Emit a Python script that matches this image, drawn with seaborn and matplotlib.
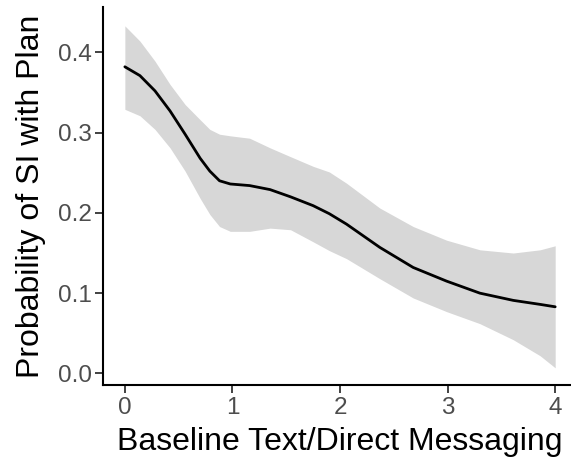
import numpy as np
import pandas as pd
import matplotlib
matplotlib.use('Agg')
import matplotlib.pyplot as plt
import seaborn as sns

# values
x = [0.0, 0.14, 0.28, 0.42, 0.56, 0.70, 0.79, 0.88, 0.98, 1.16, 1.35, 1.54,
     1.75, 1.90, 2.06, 2.37, 2.68, 2.99, 3.30, 3.61, 3.86, 4.0]
prob = [0.382, 0.371, 0.352, 0.327, 0.298, 0.268, 0.252, 0.240, 0.236, 0.234, 0.229,
        0.220, 0.209, 0.199, 0.186, 0.157, 0.132, 0.115, 0.100, 0.091, 0.086, 0.083]
upper = [0.433, 0.414, 0.389, 0.360, 0.335, 0.316, 0.304, 0.298, 0.296, 0.293, 0.281,
         0.270, 0.258, 0.251, 0.237, 0.206, 0.183, 0.166, 0.154, 0.150, 0.154, 0.159]
lower = [0.329, 0.321, 0.304, 0.281, 0.252, 0.218, 0.198, 0.183, 0.177, 0.177, 0.181,
         0.179, 0.164, 0.153, 0.143, 0.118, 0.094, 0.077, 0.062, 0.042, 0.022, 0.007]
xticks = [0, 1, 2, 3, 4]
yticks = [0.0, 0.1, 0.2, 0.3, 0.4]

df = pd.DataFrame({'x': x, 'prob': prob, 'upper': upper, 'lower': lower})

sns.set_style('white')
plt.rcParams['font.family'] = ['Liberation Sans', 'DejaVu Sans']

fig = plt.figure(figsize=(5.71, 4.62), dpi=100)
ax = fig.add_axes([0.181, 0.1667, 0.829, 0.818])

ax.fill_between(df['x'], df['lower'], df['upper'], color='#D7D7D7', lw=0)
sns.lineplot(data=df, x='x', y='prob', color='black', lw=2.0, ax=ax)
ax.lines[0].set_solid_joinstyle('round')

ax.set_xlim(-0.2, 4.2)
ax.set_ylim(-0.0144, 0.4564)
ax.set_xticks(xticks)
ax.set_xticklabels([str(t) for t in xticks])
ax.set_yticks(yticks)
ax.set_yticklabels([f'{t:.1f}' for t in yticks])
ax.tick_params(axis='both', direction='out', length=5.5, width=1.3, color='#333333',
               labelsize=17.5, labelcolor='#4D4D4D', pad=3, bottom=True, left=True)

sns.despine(ax=ax)
for s in ['left', 'bottom']:
    ax.spines[s].set_color('black')
    ax.spines[s].set_linewidth(1.5)

ax.set_xlabel('Baseline Text/Direct Messaging', fontsize=23, color='black', labelpad=6)
ax.set_ylabel('Probability of SI with Plan', fontsize=23, color='black', labelpad=8)

fig.savefig('out.png', dpi=100)
